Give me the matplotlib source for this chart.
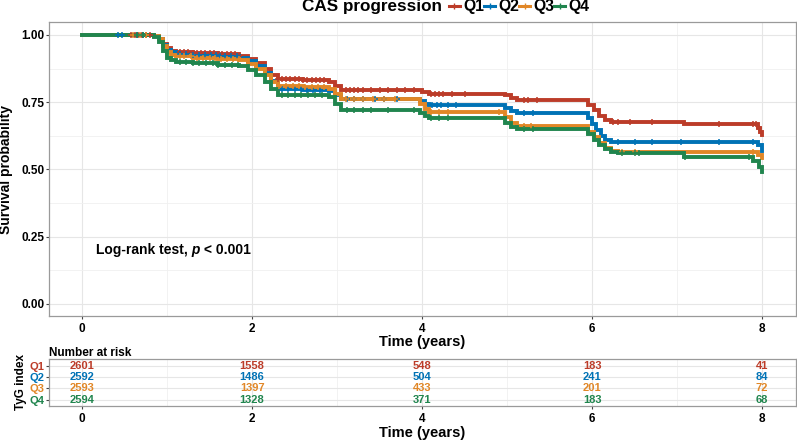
import numpy as np
import matplotlib
matplotlib.use('Agg')
import matplotlib.pyplot as plt
from matplotlib.lines import Line2D
from matplotlib.ticker import MultipleLocator

plt.rcParams['font.family'] = ['Liberation Sans', 'DejaVu Sans']

groups = ['Q1', 'Q2', 'Q3', 'Q4']
colors = ['#BC3C29', '#0072B5', '#E18727', '#20854E']

# survival step curves (value holds from the given time onward)
t_q1 = [0, 0.85, 0.9, 0.95, 1.0, 1.05, 1.1, 1.3, 1.6, 1.85, 1.95, 2.05, 2.15, 2.22, 2.3, 2.6, 2.9, 2.97, 3.05,
        4.0, 4.08, 4.98, 5.05, 5.12, 5.95, 6.02, 6.08, 6.15, 6.22, 7.08, 7.95, 7.98, 8.0]
s_q1 = [1.0, 0.995, 0.985, 0.965, 0.95, 0.942, 0.937, 0.934, 0.93, 0.922, 0.912, 0.895, 0.875, 0.85, 0.835, 0.832,
        0.826, 0.81, 0.794, 0.788, 0.781, 0.775, 0.765, 0.757, 0.74, 0.72, 0.70, 0.685, 0.677, 0.668, 0.655, 0.64, 0.627]

t_q2 = [0, 0.85, 0.9, 0.95, 1.0, 1.05, 1.1, 1.3, 1.6, 1.85, 1.95, 2.05, 2.15, 2.22, 2.3, 2.6, 2.9, 2.97, 3.05,
        3.98, 4.03, 4.08, 4.98, 5.05, 5.12, 5.95, 6.0, 6.05, 6.1, 6.15, 6.22, 7.95, 8.0]
s_q2 = [1.0, 0.995, 0.985, 0.962, 0.945, 0.935, 0.93, 0.927, 0.922, 0.915, 0.903, 0.883, 0.86, 0.83, 0.80, 0.795,
        0.79, 0.775, 0.762, 0.755, 0.745, 0.74, 0.73, 0.718, 0.71, 0.69, 0.67, 0.645, 0.625, 0.61, 0.603, 0.59, 0.567]

t_q3 = [0, 0.85, 0.9, 0.95, 1.0, 1.05, 1.1, 1.3, 1.6, 1.85, 1.95, 2.05, 2.15, 2.22, 2.3, 2.6, 2.9, 2.97, 3.05,
        3.98, 4.03, 4.08, 4.98, 5.05, 5.12, 5.95, 6.02, 6.08, 6.15, 6.22, 6.3, 7.95, 8.0]
s_q3 = [1.0, 0.995, 0.983, 0.958, 0.935, 0.925, 0.92, 0.916, 0.912, 0.905, 0.893, 0.873, 0.85, 0.825, 0.81, 0.807,
        0.80, 0.78, 0.763, 0.745, 0.725, 0.712, 0.695, 0.672, 0.66, 0.64, 0.62, 0.60, 0.58, 0.57, 0.563, 0.555, 0.543]

t_q4 = [0, 0.85, 0.9, 0.95, 1.0, 1.05, 1.1, 1.3, 1.6, 1.85, 1.95, 2.05, 2.15, 2.22, 2.3, 2.6, 2.9, 2.97, 3.05,
        3.98, 4.03, 4.08, 4.98, 5.05, 5.12, 5.95, 6.02, 6.08, 6.15, 6.22, 6.3, 7.08, 7.9, 7.96, 8.0]
s_q4 = [1.0, 0.993, 0.975, 0.94, 0.915, 0.905, 0.90, 0.895, 0.89, 0.885, 0.87, 0.85, 0.825, 0.80, 0.778, 0.775,
        0.77, 0.745, 0.72, 0.71, 0.698, 0.69, 0.672, 0.658, 0.65, 0.63, 0.61, 0.59, 0.575, 0.565, 0.56, 0.548, 0.53,
        0.51, 0.49]

# censoring times
c_q1 = [0.58, 0.62, 0.66, 0.7, 0.75, 0.8, 1.15, 1.2, 1.25, 1.3, 1.35, 1.4, 1.45, 1.5, 1.55, 1.6, 1.65, 1.7, 1.75,
        1.8, 1.85, 2.3, 2.35, 2.4, 2.45, 2.5, 2.55, 2.6, 2.65, 2.7, 2.75, 2.8, 2.85, 3.1, 3.15, 3.2, 3.25, 3.3, 3.4,
        3.5, 3.6, 3.7, 3.8, 3.9, 4.1, 4.15, 4.2, 4.25, 4.35, 4.5, 5.2, 5.25, 5.35, 6.25, 6.3, 6.45, 6.7, 7.5, 7.9,
        7.93, 7.97]
c_q2 = [0.42, 0.47, 0.65, 0.72, 1.15, 1.22, 1.3, 1.38, 1.45, 1.52, 1.58, 1.62, 1.68, 1.75, 1.82, 2.35, 2.42, 2.5,
        2.58, 2.65, 2.72, 2.8, 3.12, 3.2, 3.3, 3.45, 3.55, 3.7, 4.12, 4.18, 4.22, 4.3, 4.4, 5.2, 5.3, 6.3, 6.5, 6.7,
        7.05, 7.5, 7.9]
c_q3 = [0.6, 0.68, 0.75, 1.15, 1.2, 1.28, 1.35, 1.42, 1.5, 1.56, 1.63, 1.7, 1.78, 1.84, 2.32, 2.4, 2.48, 2.55,
        2.62, 2.7, 2.78, 2.85, 3.1, 3.2, 3.3, 3.42, 3.55, 3.68, 4.1, 4.2, 4.3, 4.9, 5.2, 5.28, 6.35, 6.5, 7.9]
c_q4 = [0.65, 0.72, 1.15, 1.22, 1.3, 1.38, 1.46, 1.54, 1.6, 1.68, 1.76, 1.83, 2.35, 2.42, 2.5, 2.58, 2.66, 2.74,
        2.82, 3.12, 3.2, 3.3, 3.4, 3.6, 3.9, 4.1, 4.2, 4.3, 5.2, 5.3, 6.35, 6.5, 6.55, 7.1, 7.85]

risk_times = [0, 2, 4, 6, 8]
risk_q1 = [2601, 1558, 548, 183, 41]
risk_q2 = [2592, 1486, 504, 241, 84]
risk_q3 = [2593, 1397, 433, 201, 72]
risk_q4 = [2594, 1328, 371, 183, 68]

curves = [(t_q1, s_q1, c_q1), (t_q2, s_q2, c_q2), (t_q3, s_q3, c_q3), (t_q4, s_q4, c_q4)]
risks = [risk_q1, risk_q2, risk_q3, risk_q4]

fig = plt.figure(figsize=(7.97, 4.41), dpi=100)
ax = fig.add_axes([0.0615, 0.2834, 0.9372, 0.6667])
tab = fig.add_axes([0.0615, 0.0794, 0.9372, 0.1066])


def style_axes(a):
    a.set_facecolor('white')
    for sp in a.spines.values():
        sp.set_color('#9a9a9a')
        sp.set_linewidth(0.9)
    a.grid(True, which='major', color='#e6e6e6', lw=0.8)
    a.grid(True, which='minor', color='#f0f0f0', lw=0.6)
    a.set_axisbelow(True)
    a.tick_params(which='major', length=2, width=0.8, color='#444444', pad=1)
    a.tick_params(which='minor', length=0)
    for lab in a.get_xticklabels() + a.get_yticklabels():
        lab.set_fontweight('bold')


for (t, s, c), col in zip(curves, colors):
    ax.step(t, s, where='post', color=col, lw=2.8, solid_joinstyle='miter', zorder=3)
    idx = np.searchsorted(t, c, side='right') - 1
    ax.plot(c, np.array(s)[idx], ls='none', marker='+', ms=5, mew=1.1, color=col, zorder=4)

ax.set_xlim(-0.39, 8.4)
ax.set_ylim(-0.045, 1.048)
ax.xaxis.set_major_locator(MultipleLocator(2))
ax.xaxis.set_minor_locator(MultipleLocator(1))
ax.yaxis.set_major_locator(MultipleLocator(0.25))
ax.yaxis.set_minor_locator(MultipleLocator(0.125))
ax.set_yticks([0, 0.25, 0.5, 0.75, 1.0])
ax.set_yticklabels(['0.00', '0.25', '0.50', '0.75', '1.00'], fontsize=8.5)
ax.set_xticks(risk_times)
ax.set_xticklabels([str(v) for v in risk_times], fontsize=8.5)
style_axes(ax)
ax.tick_params(axis='x', pad=3)
ax.set_xlabel('Time (years)', fontsize=10.5, fontweight='bold', labelpad=0)
ax.set_ylabel('Survival probability', fontsize=10, fontweight='bold', labelpad=6)

t1 = ax.text(0.165, 0.2, 'Log-rank test,', fontsize=10, fontweight='bold', va='center')
t2 = ax.annotate(' p', xy=(1, 0), xycoords=t1, va='bottom', fontsize=10, fontweight='bold', style='italic')
ax.annotate(' < 0.001', xy=(1, 0), xycoords=t2, va='bottom', fontsize=10, fontweight='bold')

# legend
fig.text(302 / 797, 1 - 7 / 441, 'CAS progression', fontsize=12.3, fontweight='bold', va='center', ha='left')
handles = [Line2D([], [], color=col, lw=2.2, marker='+', ms=4, mew=1) for col in colors]
fig.legend(handles, groups, loc='center left', bbox_to_anchor=(449 / 797, 1 - 7 / 441), ncol=4, frameon=False,
           prop={'weight': 'bold', 'size': 11.3}, handlelength=0.7, handletextpad=0.2, columnspacing=0.0,
           borderpad=0, borderaxespad=0)

# risk table
rows = [4, 3, 2, 1]
for r, vals, col in zip(rows, risks, colors):
    for x, v in zip(risk_times, vals):
        tab.text(x, r, str(v), color=col, fontsize=8, fontweight='bold', ha='center', va='center')
tab.set_xlim(-0.39, 8.4)
tab.set_ylim(0.45, 4.6)
tab.set_xticks(risk_times)
tab.set_xticklabels([str(v) for v in risk_times], fontsize=8.5)
tab.xaxis.set_minor_locator(MultipleLocator(1))
tab.set_yticks(rows)
tab.set_yticklabels(groups, fontsize=8)
style_axes(tab)
tab.tick_params(axis='x', pad=3)
for lab, col in zip(tab.get_yticklabels(), colors):
    lab.set_color(col)
tab.set_xlabel('Time (years)', fontsize=10.5, fontweight='bold', labelpad=1)
tab.set_ylabel('TyG index', fontsize=8.5, fontweight='bold', labelpad=2)
tab.set_title('Number at risk', loc='left', fontsize=8.5, fontweight='bold', pad=2)

fig.savefig('out.png', dpi=100)
